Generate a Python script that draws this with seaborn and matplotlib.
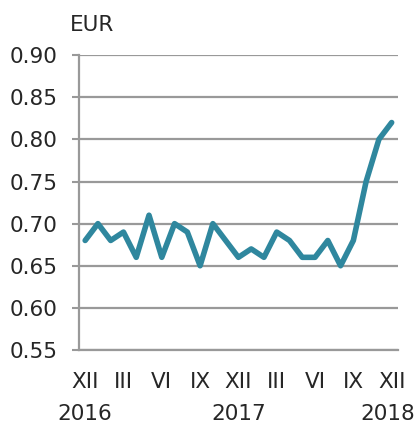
import pandas as pd
import matplotlib
matplotlib.use('Agg')
import matplotlib.pyplot as plt
import seaborn as sns

months = ['2016-12', '2017-01', '2017-02', '2017-03', '2017-04', '2017-05',
          '2017-06', '2017-07', '2017-08', '2017-09', '2017-10', '2017-11',
          '2017-12', '2018-01', '2018-02', '2018-03', '2018-04', '2018-05',
          '2018-06', '2018-07', '2018-08', '2018-09', '2018-10', '2018-11',
          '2018-12']
price = [0.68, 0.70, 0.68, 0.69, 0.66, 0.71, 0.66, 0.70, 0.69, 0.65, 0.70, 0.68,
         0.66, 0.67, 0.66, 0.69, 0.68, 0.66, 0.66, 0.68, 0.65, 0.68, 0.75, 0.80,
         0.82]
tick_labels = ['XII', 'III', 'VI', 'IX', 'XII', 'III', 'VI', 'IX', 'XII']
years = ['2016', '2017', '2018']
y_ticks = [0.55, 0.60, 0.65, 0.70, 0.75, 0.80, 0.85, 0.90]

df = pd.DataFrame({'month': months, 'price': price})

sns.set_style('white')
plt.rcParams['font.family'] = ['DejaVu Sans']
fs = 15.5

grey = '#999999'
fig = plt.figure(figsize=(4.19, 4.24), dpi=100)
ax = fig.add_axes([0.188, 0.1745, 0.762, 0.6955])

sns.lineplot(data=df, x='month', y='price', ax=ax, color='#2f879e',
             linewidth=4.0, solid_capstyle='round', solid_joinstyle='round',
             zorder=3)

ax.set_ylim(0.55, 0.90)
ax.set_xlim(-0.5, len(months) - 0.5)
ax.set_yticks(y_ticks)
ax.set_yticklabels([f'{v:.2f}' for v in y_ticks])

# ticks on month boundaries, labels centred on the months
n_lab = len(tick_labels)
ax.set_xticks([i * 3 - 0.5 for i in range(n_lab)])
ax.set_xticklabels([''] * n_lab)
ax.set_xticks([i * 3 for i in range(n_lab)], minor=True)
ax.set_xticklabels(tick_labels, minor=True)
ax.tick_params(axis='x', which='minor', length=0, pad=16, labelsize=fs)
ax.tick_params(axis='x', which='major', length=5, width=1.5, color=grey,
               direction='out')
ax.tick_params(axis='y', length=5, width=1.5, color=grey, pad=10,
               labelsize=fs, direction='out', left=True)

ax.grid(axis='y', color=grey, linewidth=1.6)
ax.grid(axis='x', visible=False)
for side in ['top', 'right']:
    ax.spines[side].set_visible(False)
for side in ['left', 'bottom']:
    ax.spines[side].set_color(grey)
    ax.spines[side].set_linewidth(1.6)

ax.set_xlabel('')
ax.set_ylabel('')

for i, yr in enumerate(years):
    ax.text(i * 12 - (0.3 if i == 2 else 0), -0.218, yr,
            transform=ax.get_xaxis_transform(),
            ha='center', va='center', fontsize=fs, clip_on=False)

fig.text(92 / 419, 1 - 25 / 424, 'EUR', ha='center', va='center', fontsize=fs)

fig.savefig('out.png', dpi=100)
